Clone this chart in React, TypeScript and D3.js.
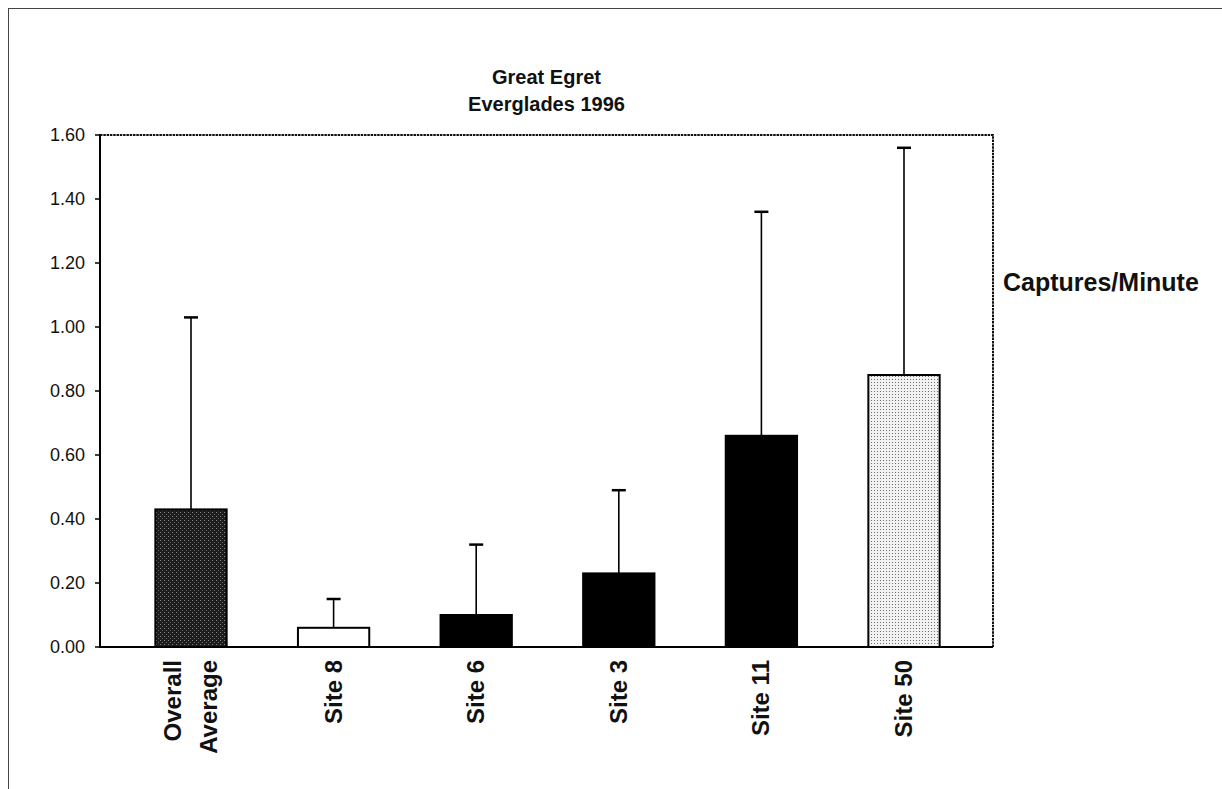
import React from "react";
import * as d3 from "d3";

// Captures per minute by site (mean and standard deviation)
const categories: string[][] = [
  ["Overall", "Average"],
  ["Site 8"],
  ["Site 6"],
  ["Site 3"],
  ["Site 11"],
  ["Site 50"],
];
const means: number[] = [0.43, 0.06, 0.1, 0.23, 0.66, 0.85];
const sds: number[] = [0.6, 0.09, 0.22, 0.26, 0.7, 0.71];
const fills: string[] = [
  "url(#darkStipple)",
  "#ffffff",
  "#000000",
  "#000000",
  "#000000",
  "url(#lightStipple)",
];
const yTicks: number[] = [0, 0.2, 0.4, 0.6, 0.8, 1.0, 1.2, 1.4, 1.6];
const titleLines: string[] = ["Great Egret", "Everglades 1996"];
const yLabel = "Captures/Minute";

const W = 1222;
const H = 789;
const plot = { left: 100, right: 993, top: 135, bottom: 647 };
const font = "'Liberation Sans', Arial, Helvetica, sans-serif";

export default function App() {
  const keys = categories.map((c) => c.join(" "));
  const x = d3
    .scaleBand<string>()
    .domain(keys)
    .range([119.7, 975.3])
    .paddingInner(0.5)
    .paddingOuter(0.25);
  const y = d3.scaleLinear().domain([0, 1.6]).range([plot.bottom, plot.top]);
  const bw = x.bandwidth();
  const labelSize = 24;

  return (
    <svg
      width={W}
      height={H}
      viewBox={`0 0 ${W} ${H}`}
      style={{ position: "absolute", left: 0, top: 0, background: "#fff" }}
    >
      <defs>
        <pattern id="darkStipple" width="4" height="4" patternUnits="userSpaceOnUse">
          <rect width="4" height="4" fill="#1c1c1c" />
          <rect x="0" y="0" width="1" height="1" fill="#8a8a8a" />
          <rect x="2" y="2" width="1" height="1" fill="#6a6a6a" />
        </pattern>
        <pattern id="lightStipple" width="3" height="3" patternUnits="userSpaceOnUse">
          <rect width="3" height="3" fill="#f2f2f2" />
          <rect x="1" y="1" width="1" height="1" fill="#6f6f6f" />
        </pattern>
      </defs>

      {/* outer chart frame */}
      <rect x={8.5} y={8.5} width={W + 10} height={H + 10} fill="none" stroke="#444" strokeWidth={1} />

      {/* title */}
      {titleLines.map((t, i) => (
        <text
          key={t}
          x={(plot.left + plot.right) / 2}
          y={84 + i * 27}
          textAnchor="middle"
          fontFamily={font}
          fontWeight="bold"
          fontSize={20}
          fill="#111"
        >
          {t}
        </text>
      ))}

      {/* plot area frame */}
      <rect
        x={plot.left}
        y={plot.top}
        width={plot.right - plot.left}
        height={plot.bottom - plot.top}
        fill="none"
        stroke="#111"
        strokeWidth={2}
        strokeDasharray="2.5 0.8"
      />

      {/* y axis */}
      <line x1={plot.left} x2={plot.left} y1={plot.top} y2={plot.bottom} stroke="#000" strokeWidth={2} />
      {yTicks.map((t) => (
        <g key={t}>
          <line x1={plot.left - 5} x2={plot.left} y1={y(t)} y2={y(t)} stroke="#000" strokeWidth={1.5} />
          <text
            x={85}
            y={y(t)}
            dy="0.36em"
            textAnchor="end"
            fontFamily={font}
            fontSize={18}
            fill="#111"
          >
            {t.toFixed(2)}
          </text>
        </g>
      ))}

      {/* bars */}
      {keys.map((k, i) => (
        <rect
          key={k}
          x={x(k)!}
          y={y(means[i])}
          width={bw}
          height={y(0) - y(means[i])}
          fill={fills[i]}
          stroke="#000"
          strokeWidth={2}
        />
      ))}

      {/* error bars (upper only) */}
      {keys.map((k, i) => {
        const cx = x(k)! + bw / 2;
        const top = y(means[i] + sds[i]);
        return (
          <g key={k + "-err"}>
            <line x1={cx} x2={cx} y1={y(means[i])} y2={top} stroke="#000" strokeWidth={1.6} />
            <line x1={cx - 7} x2={cx + 7} y1={top} y2={top} stroke="#000" strokeWidth={2.5} />
          </g>
        );
      })}

      {/* x axis line */}
      <line x1={plot.left} x2={plot.right} y1={plot.bottom} y2={plot.bottom} stroke="#000" strokeWidth={2} />

      {/* category labels, rotated */}
      {categories.map((lines, i) => {
        const cx = x(keys[i])! + bw / 2;
        const n = lines.length;
        return lines.map((ln, j) => {
          const lx = cx + (j - (n - 1) / 2) * 36 + 8;
          return (
            <text
              key={ln}
              transform={`translate(${lx},${660}) rotate(-90)`}
              textAnchor="end"
              fontFamily={font}
              fontWeight="bold"
              fontSize={labelSize}
              fill="#111"
            >
              {ln}
            </text>
          );
        });
      })}

      {/* measurement label */}
      <text
        x={1003}
        y={291}
        fontFamily={font}
        fontWeight="bold"
        fontSize={25}
        fill="#111"
      >
        {yLabel}
      </text>
    </svg>
  );
}
